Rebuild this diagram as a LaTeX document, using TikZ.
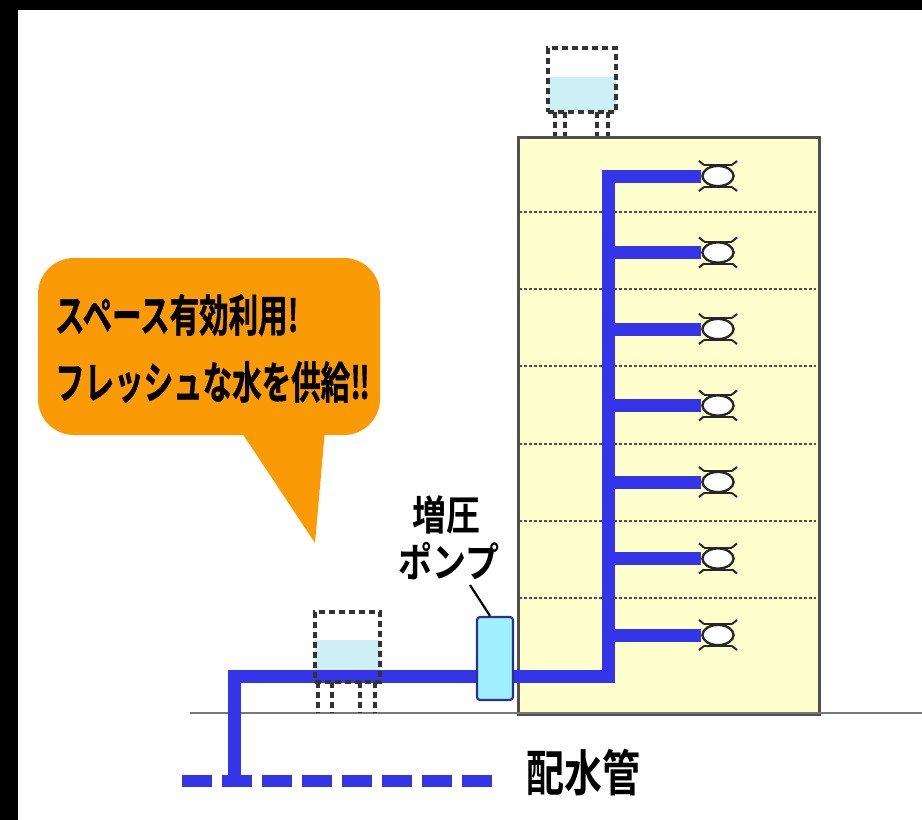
\documentclass[tikz,border=0pt]{standalone}
\usepackage{fontspec}
\usepackage{graphicx}
\newfontfamily\jpb{Noto Sans CJK JP Bold}
\newfontfamily\jpheavy{Noto Sans CJK JP Bold}[FakeBold=1.2]
\usetikzlibrary{shapes.geometric}

\definecolor{pipeblue}{RGB}{52,52,232}
\definecolor{bldg}{RGB}{255,255,206}
\definecolor{bldgline}{RGB}{80,80,80}
\definecolor{water}{RGB}{205,240,246}
\definecolor{pumpfill}{RGB}{160,240,255}
\definecolor{pumpline}{RGB}{40,50,140}
\definecolor{bubblec}{RGB}{250,155,5}
\definecolor{groundc}{RGB}{120,120,120}

\tikzset{
  pipe/.style={draw=pipeblue, line width=13pt},
  mainpipe/.style={draw=pipeblue, line width=12pt, dash pattern=on 30pt off 10pt},
  tankline/.style={draw=black!80, line width=3.4pt, dash pattern=on 6pt off 4pt},
  floorline/.style={draw=bldgline, line width=2pt, dash pattern=on 3pt off 2pt},
  fixture/.style={ellipse, draw=black!85, fill=white, line width=2.2pt,
                  minimum width=31pt, minimum height=20pt, inner sep=0pt},
  fixline/.style={draw=black!85, line width=2pt},
  bigtext/.style={inner sep=0pt, font=\jpb},
}

\begin{document}
\begin{tikzpicture}[x=1pt, y=-1pt]
  \useasboundingbox (0,0) rectangle (922,820);
  % frame and paper
  \fill[black] (0,0) rectangle (922,820);
  \fill[white] (18,10) rectangle (922,820);

  % building
  \node[draw=bldgline, fill=bldg, line width=3pt, minimum width=301pt,
        minimum height=577pt, inner sep=0pt, anchor=north west] (bldg) at (517,136) {};
  % floor slabs
  \foreach \k in {0,...,5} {
    \draw[floorline] (519,212+77.2*\k) -- (816,212+77.2*\k);
  }

  % ground
  \coordinate (gl) at (190,713);
  \coordinate (gr) at (922,713);
  \draw[draw=groundc, line width=2.6pt] (gl) -- (gr);

  % roof tank (removed, shown dashed)
  \fill[water] (548,77) rectangle (616,112);
  \node[tankline, minimum width=68pt, minimum height=64pt, inner sep=0pt] (rooftank) at (582,80) {};
  \foreach \x in {555,565,597,608} {
    \draw[tankline] (\x,112) -- (\x,136);
  }

  % ground tank (removed, shown dashed)
  \fill[water] (315,640) rectangle (380,682);

  % distribution main
  \coordinate (mainL) at (182,781);
  \coordinate (mainR) at (492,781);
  \draw[mainpipe] (mainL) -- (mainR);

  % fixtures
  \foreach \k [count=\n] in {0,...,6} {
    \node[fixture] (fix\n) at (718,176+76.5*\k) {};
  }

  % supply pipe
  \coordinate (tap) at (234,781);
  \coordinate (rise1) at (234,676);
  \coordinate (foot) at (608,676);
  \coordinate (top) at (608,176);
  \draw[pipe] (tap) -- (rise1) -- (foot) -- (top) -- (fix1.west);
  \foreach \n in {2,...,7} {
    \draw[pipe] (fix\n.west -| foot) -- (fix\n.west);
  }

  % fixture frames
  \foreach \n in {1,...,7} {
    \draw[fixline] ([shift={(-14,-11)}]fix\n.center) -- ([shift={(14,-11)}]fix\n.center);
    \draw[fixline] ([shift={(-14,11)}]fix\n.center) -- ([shift={(14,11)}]fix\n.center);
    \draw[fixline] ([shift={(-14,-11)}]fix\n.center) -- ([shift={(-19,-15)}]fix\n.center);
    \draw[fixline] ([shift={(14,-11)}]fix\n.center) -- ([shift={(19,-15)}]fix\n.center);
    \draw[fixline] ([shift={(-14,11)}]fix\n.center) -- ([shift={(-19,15)}]fix\n.center);
    \draw[fixline] ([shift={(14,11)}]fix\n.center) -- ([shift={(19,15)}]fix\n.center);
    \node[fixture] at (fix\n.center) {};
  }

  % ground tank outline and legs
  \node[tankline, minimum width=65pt, minimum height=70pt, inner sep=0pt] (gtank) at (347.5,647) {};
  \foreach \x in {318,332,360,375} {
    \draw[tankline] (\x,682) -- (\x,713);
  }

  % booster pump
  \node[draw=pumpline, fill=pumpfill, line width=2.2pt, rounded corners=3pt,
        minimum width=36pt, minimum height=83pt, inner sep=0pt] (pump) at (495,658.5) {};
  \coordinate (lead) at (470,585);
  \draw[line width=2.2pt] (lead) -- ([xshift=-5pt]pump.north);

  % labels
  \node[bigtext] (plab1) at (446,515) {\fontsize{34}{34}\selectfont\scalebox{1}[1.2]{増圧}};
  \node[bigtext] (plab2) at (449,561) {\fontsize{34}{34}\selectfont\scalebox{1}[1.2]{ポンプ}};
  \node[bigtext] (mainlab) at (583,773) {\fontsize{38}{38}\selectfont\scalebox{1}[1.3]{配水管}};

  % speech bubble
  \fill[bubblec, rounded corners=36pt] (38,258) rectangle (380,435);
  \fill[bubblec] (240,430) -- (325,430) -- (315,543) -- cycle;
  \node[bigtext, anchor=west] (say1) at (55,315)
    {\jpheavy\fontsize{29.5}{30}\selectfont\scalebox{1}[1.5]{スペース有効利用!}};
  \node[bigtext, anchor=west] (say2) at (55,382)
    {\jpheavy\fontsize{29.5}{30}\selectfont\scalebox{1}[1.5]{フレッシュな水を供給!\kern-2pt!}};
\end{tikzpicture}
\end{document}
